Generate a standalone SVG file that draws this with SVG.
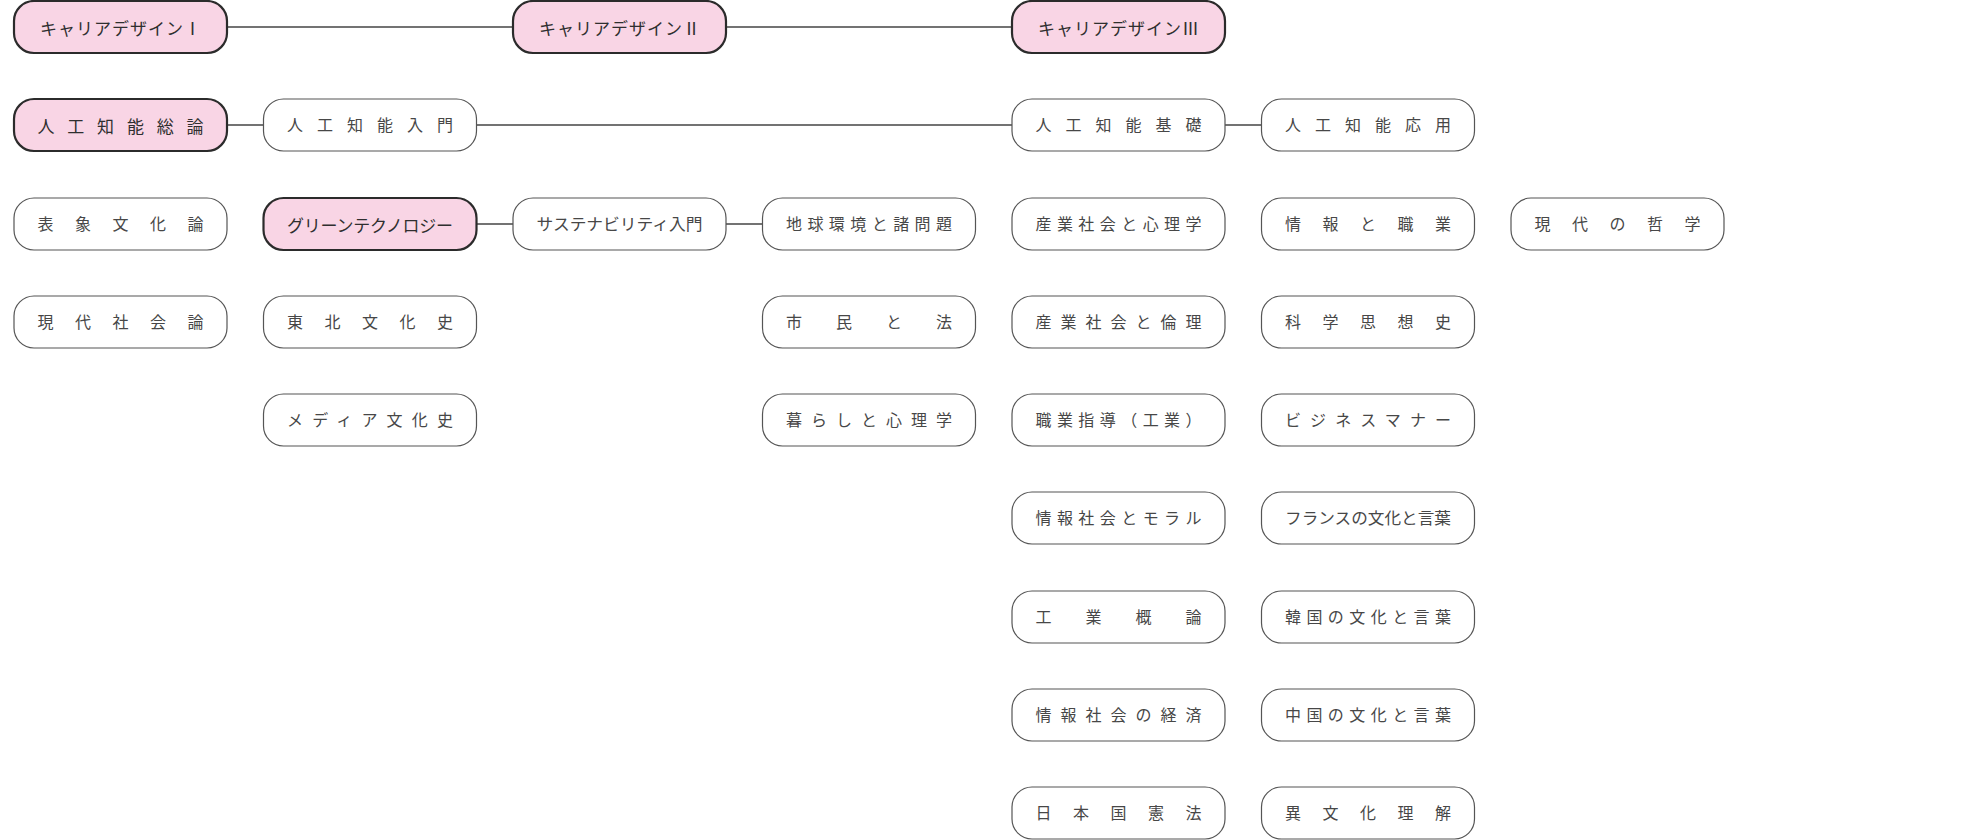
<svg xmlns="http://www.w3.org/2000/svg" width="1986" height="840" viewBox="0 0 1986 840">
<style>
.bg{fill:#ffffff}
.pk rect{fill:#f9d5e5;stroke:#2b2b2b;stroke-width:2.2}
.wh rect{fill:#ffffff;stroke:#555555;stroke-width:1.2}
.pk text{font-family:"Noto Sans CJK JP","Noto Sans",sans-serif;font-size:17px;fill:#2f2f2f;text-anchor:middle;dominant-baseline:central}
.wh text{font-family:"Liberation Serif","Noto Sans CJK JP",serif;font-size:16px;fill:#474747;text-anchor:middle;dominant-baseline:central}
.con line{stroke:#444444;stroke-width:1.3}
</style>
<rect class="bg" x="0" y="0" width="1986" height="840"/>
<g id="connectors" class="con">
<line x1="227" y1="27" x2="513" y2="27"/>
<line x1="726" y1="27" x2="1012" y2="27"/>
<line x1="227" y1="125" x2="263.5" y2="125"/>
<line x1="476.5" y1="125" x2="1012" y2="125"/>
<line x1="1225" y1="125" x2="1261.5" y2="125"/>
<line x1="476.5" y1="224" x2="513" y2="224"/>
<line x1="726" y1="224" x2="762.5" y2="224"/>
</g>
<!-- row 0 -->
<g id="n-career1" class="pk"><rect x="14" y="1" width="213" height="52" rx="20"/><text x="120.5" y="27" textLength="161">キャリアデザインⅠ</text></g>
<g id="n-career2" class="pk"><rect x="513" y="1" width="213" height="52" rx="20"/><text x="619.5" y="27" textLength="161">キャリアデザインⅡ</text></g>
<g id="n-career3" class="pk"><rect x="1012" y="1" width="213" height="52" rx="20"/><text x="1118.5" y="27" textLength="161">キャリアデザインⅢ</text></g>
<!-- row 1 -->
<g id="n-ai-soron" class="pk"><rect x="14" y="99" width="213" height="52" rx="20"/><text x="120.5" y="125" textLength="166" lengthAdjust="spacing">人工知能総論</text></g>
<g id="n-ai-nyumon" class="wh"><rect x="263.5" y="99" width="213" height="52" rx="20"/><text x="370" y="125" textLength="166" lengthAdjust="spacing">人工知能入門</text></g>
<g id="n-ai-kiso" class="wh"><rect x="1012" y="99" width="213" height="52" rx="20"/><text x="1118.5" y="125" textLength="166" lengthAdjust="spacing">人工知能基礎</text></g>
<g id="n-ai-oyo" class="wh"><rect x="1261.5" y="99" width="213" height="52" rx="20"/><text x="1368" y="125" textLength="166" lengthAdjust="spacing">人工知能応用</text></g>
<!-- row 2 -->
<g id="n-hyosho" class="wh"><rect x="14" y="198" width="213" height="52" rx="20"/><text x="120.5" y="224" textLength="166" lengthAdjust="spacing">表象文化論</text></g>
<g id="n-green" class="pk"><rect x="263.5" y="198" width="213" height="52" rx="20"/><text x="370" y="224" textLength="166">グリーンテクノロジー</text></g>
<g id="n-sustain" class="wh"><rect x="513" y="198" width="213" height="52" rx="20"/><text x="619.5" y="224" textLength="166" lengthAdjust="spacingAndGlyphs">サステナビリティ入門</text></g>
<g id="n-chikyu" class="wh"><rect x="762.5" y="198" width="213" height="52" rx="20"/><text x="869" y="224" textLength="166" lengthAdjust="spacing">地球環境と諸問題</text></g>
<g id="n-sangyo-shinri" class="wh"><rect x="1012" y="198" width="213" height="52" rx="20"/><text x="1118.5" y="224" textLength="166" lengthAdjust="spacing">産業社会と心理学</text></g>
<g id="n-joho-shokugyo" class="wh"><rect x="1261.5" y="198" width="213" height="52" rx="20"/><text x="1368" y="224" textLength="166" lengthAdjust="spacing">情報と職業</text></g>
<g id="n-tetsugaku" class="wh"><rect x="1511" y="198" width="213" height="52" rx="20"/><text x="1617.5" y="224" textLength="166" lengthAdjust="spacing">現代の哲学</text></g>
<!-- row 3 -->
<g id="n-gendai-shakai" class="wh"><rect x="14" y="296" width="213" height="52" rx="20"/><text x="120.5" y="322" textLength="166" lengthAdjust="spacing">現代社会論</text></g>
<g id="n-tohoku" class="wh"><rect x="263.5" y="296" width="213" height="52" rx="20"/><text x="370" y="322" textLength="166" lengthAdjust="spacing">東北文化史</text></g>
<g id="n-shimin" class="wh"><rect x="762.5" y="296" width="213" height="52" rx="20"/><text x="869" y="322" textLength="166" lengthAdjust="spacing">市民と法</text></g>
<g id="n-sangyo-rinri" class="wh"><rect x="1012" y="296" width="213" height="52" rx="20"/><text x="1118.5" y="322" textLength="166" lengthAdjust="spacing">産業社会と倫理</text></g>
<g id="n-kagaku" class="wh"><rect x="1261.5" y="296" width="213" height="52" rx="20"/><text x="1368" y="322" textLength="166" lengthAdjust="spacing">科学思想史</text></g>
<!-- row 4 -->
<g id="n-media" class="wh"><rect x="263.5" y="394" width="213" height="52" rx="20"/><text x="370" y="420" textLength="166" lengthAdjust="spacing">メディア文化史</text></g>
<g id="n-kurashi" class="wh"><rect x="762.5" y="394" width="213" height="52" rx="20"/><text x="869" y="420" textLength="166" lengthAdjust="spacing">暮らしと心理学</text></g>
<g id="n-shokugyo-shido" class="wh"><rect x="1012" y="394" width="213" height="52" rx="20"/><text x="1118.5" y="420" textLength="166" lengthAdjust="spacing">職業指導（工業）</text></g>
<g id="n-business" class="wh"><rect x="1261.5" y="394" width="213" height="52" rx="20"/><text x="1368" y="420" textLength="166" lengthAdjust="spacing">ビジネスマナー</text></g>
<!-- row 5 -->
<g id="n-moral" class="wh"><rect x="1012" y="492" width="213" height="52" rx="20"/><text x="1118.5" y="518" textLength="166" lengthAdjust="spacing">情報社会とモラル</text></g>
<g id="n-france" class="wh"><rect x="1261.5" y="492" width="213" height="52" rx="20"/><text x="1368" y="518" textLength="166" lengthAdjust="spacingAndGlyphs">フランスの文化と言葉</text></g>
<!-- row 6 -->
<g id="n-kogyo" class="wh"><rect x="1012" y="591" width="213" height="52" rx="20"/><text x="1118.5" y="617" textLength="166" lengthAdjust="spacing">工業概論</text></g>
<g id="n-korea" class="wh"><rect x="1261.5" y="591" width="213" height="52" rx="20"/><text x="1368" y="617" textLength="166" lengthAdjust="spacing">韓国の文化と言葉</text></g>
<!-- row 7 -->
<g id="n-keizai" class="wh"><rect x="1012" y="689" width="213" height="52" rx="20"/><text x="1118.5" y="715" textLength="166" lengthAdjust="spacing">情報社会の経済</text></g>
<g id="n-china" class="wh"><rect x="1261.5" y="689" width="213" height="52" rx="20"/><text x="1368" y="715" textLength="166" lengthAdjust="spacing">中国の文化と言葉</text></g>
<!-- row 8 -->
<g id="n-kenpo" class="wh"><rect x="1012" y="787" width="213" height="52" rx="20"/><text x="1118.5" y="813" textLength="166" lengthAdjust="spacing">日本国憲法</text></g>
<g id="n-ibunka" class="wh"><rect x="1261.5" y="787" width="213" height="52" rx="20"/><text x="1368" y="813" textLength="166" lengthAdjust="spacing">異文化理解</text></g>
</svg>
